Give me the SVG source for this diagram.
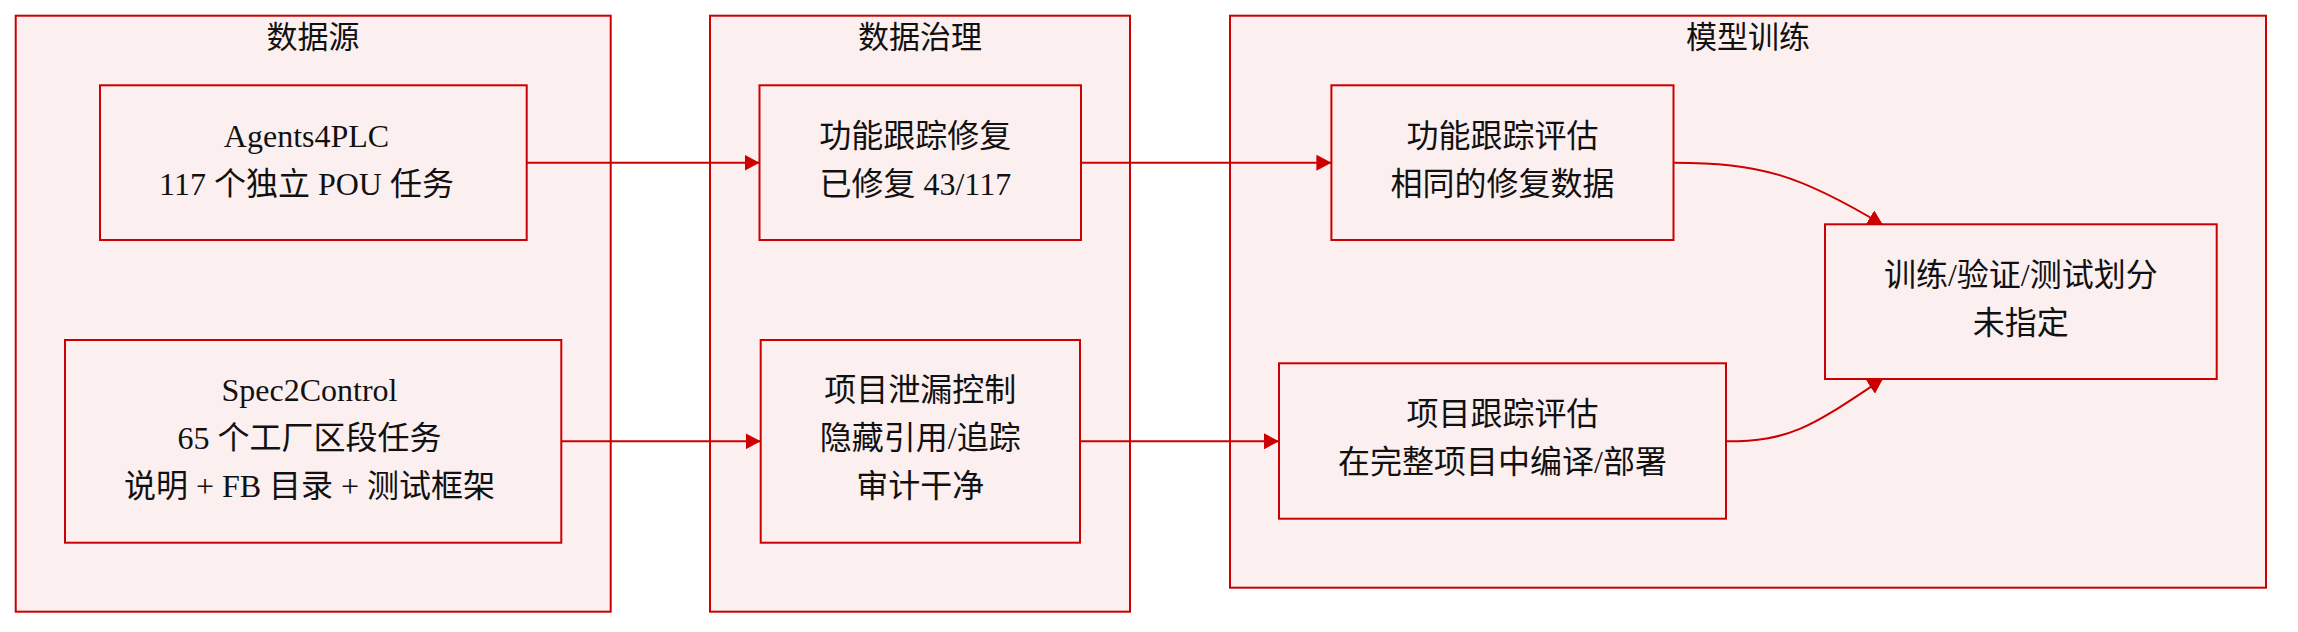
<svg xmlns="http://www.w3.org/2000/svg" width="2298" height="632" viewBox="0 0 2298 632">
<style>
.cluster{fill:#fcefef;stroke:#cc0000;stroke-width:2}
.node{fill:#fcefef;stroke:#cc0000;stroke-width:2}
.edge{fill:none;stroke:#cc0000;stroke-width:2}
text{font-family:"Liberation Serif","Noto Sans CJK SC",serif;font-size:32px;fill:#111;text-anchor:middle}
.title{font-family:"Noto Sans CJK SC","Liberation Sans",sans-serif;font-size:31px}
</style>
<defs>
<marker id="arrow" viewBox="0 0 15 16" refX="15" refY="8" markerWidth="15" markerHeight="16" markerUnits="userSpaceOnUse" orient="auto">
<path d="M0,0 L15,8 L0,16 z" fill="#cc0000"/>
</marker>
</defs>
<g id="cluster-sources">
<rect class="cluster" x="15.7" y="15.7" width="595" height="596"/>
<text class="title" x="313" y="48">数据源</text>
</g>
<g id="cluster-governance">
<rect class="cluster" x="710" y="15.7" width="420" height="596"/>
<text class="title" x="920" y="48">数据治理</text>
</g>
<g id="cluster-training">
<rect class="cluster" x="1230" y="15.7" width="1036" height="572"/>
<text class="title" x="1748" y="48">模型训练</text>
</g>
<g id="connectors">
<path class="edge" d="M526.7,162.7 L759.5,162.7" marker-end="url(#arrow)"/>
<path class="edge" d="M561.3,441.3 L760.7,441.3" marker-end="url(#arrow)"/>
<path class="edge" d="M1081,162.7 L1331.4,162.7" marker-end="url(#arrow)"/>
<path class="edge" d="M1080,441.3 L1279,441.3" marker-end="url(#arrow)"/>
<path class="edge" d="M1673.5,162.7 C1760,162.7 1800,175 1883,225" marker-end="url(#arrow)"/>
<path class="edge" d="M1726,441.3 C1792,441.3 1812,426 1883,378.7" marker-end="url(#arrow)"/>
</g>
<g id="node-agents4plc">
<rect class="node" x="100" y="85.3" width="426.7" height="154.7"/>
<text x="306.5" y="146.7">Agents4PLC</text>
<text x="306.5" y="194.7">117 个独立 POU 任务</text>
</g>
<g id="node-spec2control">
<rect class="node" x="65" y="340" width="496.3" height="202.7"/>
<text x="309.5" y="401.3">Spec2Control</text>
<text x="309.5" y="449.3">65 个工厂区段任务</text>
<text x="309.5" y="497.3">说明 + FB 目录 + 测试框架</text>
</g>
<g id="node-functional-repair">
<rect class="node" x="759.5" y="85.3" width="321.5" height="154.7"/>
<text x="915.3" y="146.7">功能跟踪修复</text>
<text x="915.3" y="194.7">已修复 43/117</text>
</g>
<g id="node-leakage-control">
<rect class="node" x="760.7" y="340" width="319.3" height="202.7"/>
<text x="920.3" y="401.3">项目泄漏控制</text>
<text x="920.3" y="449.3">隐藏引用/追踪</text>
<text x="920.3" y="497.3">审计干净</text>
</g>
<g id="node-functional-eval">
<rect class="node" x="1331.4" y="85.3" width="342.1" height="154.7"/>
<text x="1502.5" y="146.7">功能跟踪评估</text>
<text x="1502.5" y="194.7">相同的修复数据</text>
</g>
<g id="node-project-eval">
<rect class="node" x="1279" y="363.3" width="447" height="155.4"/>
<text x="1502.5" y="425">项目跟踪评估</text>
<text x="1502.5" y="473">在完整项目中编译/部署</text>
</g>
<g id="node-split">
<rect class="node" x="1825" y="224.3" width="391.7" height="154.7"/>
<text x="2020.8" y="285.7">训练/验证/测试划分</text>
<text x="2020.8" y="333.7">未指定</text>
</g>
</svg>
